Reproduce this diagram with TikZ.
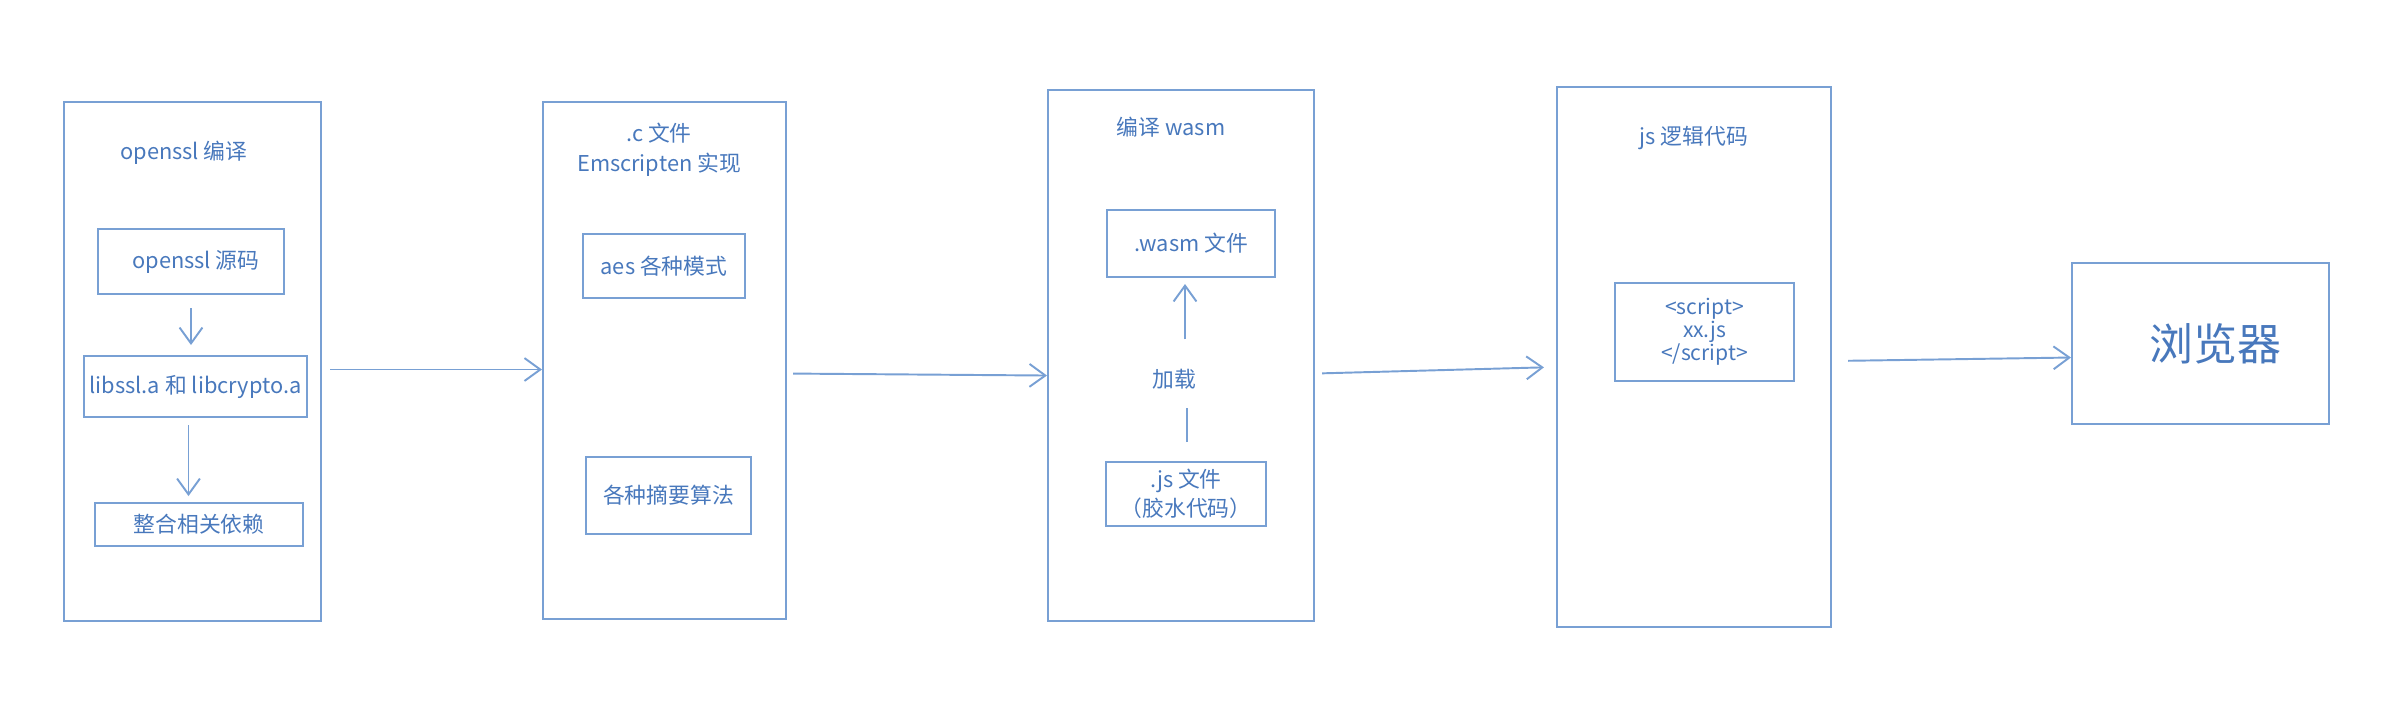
\documentclass[tikz,border=0pt]{standalone}
\usepackage{fontspec}
\setmainfont{Noto Sans CJK SC}
\usetikzlibrary{arrows.meta}
\definecolor{linecol}{RGB}{120,160,212}
\definecolor{textcol}{RGB}{72,120,188}
\begin{document}
\begin{tikzpicture}[x=0.01cm,y=-0.01cm,
        box/.style={draw=linecol,line width=0.55pt,inner sep=0pt,text=textcol,
            font=\fontsize{6.2pt}{8.3pt}\selectfont},
        label/.style={text=textcol,inner sep=0pt,font=\fontsize{6.2pt}{8.3pt}\selectfont},
        flow/.style={draw=linecol,line width=0.55pt,-{Straight Barb[length=4.5pt,width=6.5pt]}},
        plain/.style={draw=linecol,line width=0.55pt}]
        \useasboundingbox (0,0) rectangle (2398,714);

        % stages
        \node[box,minimum width=2.57cm,minimum height=5.19cm] (opensslstage) at (192.5,361.5) {};
        \node[box,minimum width=2.43cm,minimum height=5.17cm] (cstage) at (664.5,360.5) {};
        \node[box,minimum width=2.66cm,minimum height=5.31cm] (wasmstage) at (1181,355.5) {};
        \node[box,minimum width=2.74cm,minimum height=5.40cm] (jsstage) at (1694,357) {};
        \node[box,minimum width=2.57cm,minimum height=1.61cm,
            font=\fontsize{12.5pt}{14pt}\selectfont] (browser) at (2200.5,343.5) {\hspace{0.3cm}浏览器};

        % titles
        \node[label] (opensslttl) at (184,153) {openssl 编译};
        \node[label,align=center,font=\fontsize{6.2pt}{8.5pt}\selectfont] (cttl) at (659,150) {.c 文件\\Emscripten 实现};
        \node[label] (wasmttl) at (1171,127) {编译 wasm};
        \node[label] (jsttl) at (1694,138) {js 逻辑代码};

        % inner boxes
        \node[box,minimum width=1.86cm,minimum height=0.65cm] (srcbox) at (191,261.5) {\hspace{0.1cm}openssl 源码};
        \node[box,minimum width=2.23cm,minimum height=0.61cm] (libbox) at (195.5,386.5) {libssl.a 和 libcrypto.a};
        \node[box,minimum width=2.08cm,minimum height=0.43cm] (depbox) at (199,524.5) {整合相关依赖};
        \node[box,minimum width=1.62cm,minimum height=0.64cm] (aesbox) at (664,266) {aes 各种模式};
        \node[box,minimum width=1.65cm,minimum height=0.77cm] (hashbox) at (668.5,495.5) {各种摘要算法};
        \node[box,minimum width=1.68cm,minimum height=0.67cm] (wasmbox) at (1191,243.5) {.wasm 文件};
        \node[box,minimum width=1.60cm,minimum height=0.64cm,align=center,
            font=\fontsize{6.2pt}{8.3pt}\selectfont] (gluebox) at (1186,494) {.js 文件\\（胶水代码）};
        \node[box,minimum width=1.79cm,minimum height=0.98cm,align=center,
            font=\fontsize{6pt}{6.6pt}\selectfont] (scriptbox) at (1704.5,332) {<script>\\xx.js\\</script>};
        \node[label,minimum height=0.36cm] (load) at (1174,379) {加载};

        % arrows inside the stages
        \draw[flow,shorten <=0.13cm,shorten >=0.1cm] (srcbox.south) -- (srcbox.south |- libbox.north);
        \draw[flow,shorten <=0.07cm,shorten >=0.06cm] ([xshift=-0.07cm]libbox.south) -- ([xshift=-0.07cm]libbox.south |- depbox.north);
        \draw[plain,shorten <=0.19cm,shorten >=0.1cm] ([xshift=0.13cm]load.south |- gluebox.north) -- ([xshift=0.13cm]load.south);
        \draw[flow,shorten <=0.21cm,shorten >=0.06cm] ([xshift=0.11cm]load.north) -- ([xshift=0.11cm]load.north |- wasmbox.south);

        % arrows between the stages
        \draw[flow,shorten <=0.08cm] ([yshift=-0.08cm]opensslstage.east) -- ([yshift=-0.08cm]opensslstage.east -| cstage.west);
        \draw[flow,shorten <=0.06cm] ([yshift=-0.13cm]cstage.east) -- ([yshift=-0.2cm]wasmstage.west);
        \draw[flow,shorten <=0.07cm,shorten >=0.12cm] ([yshift=-0.18cm]wasmstage.east) -- ([yshift=-0.1cm]jsstage.west);
        \draw[flow,shorten <=0.16cm] ([yshift=-0.04cm]jsstage.east) -- ([yshift=-0.14cm]browser.west);
    \end{tikzpicture}
\end{document}
